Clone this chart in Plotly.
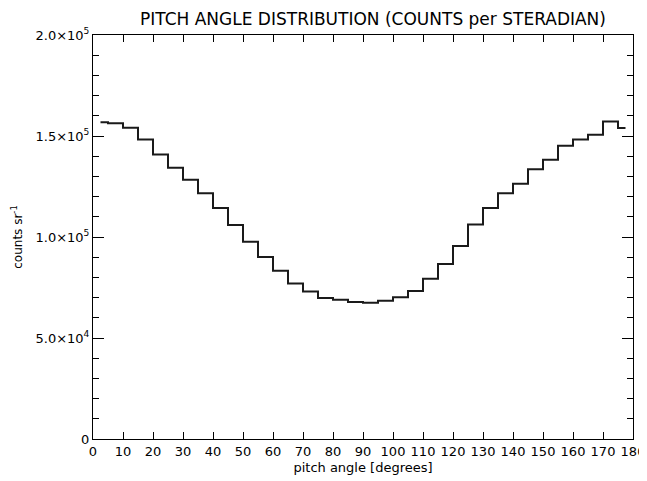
import plotly.graph_objects as go

# Pitch angle bin centres (degrees) – 5 degree bins
pitch_angle = [2.5 + 5 * i for i in range(36)]

# Counts per steradian
counts = [156800, 156300, 154100, 148300, 140900, 134300, 128400, 121600, 114400,
          106000, 97600, 90100, 83300, 77000, 73000, 69800, 68900, 67800,
          67400, 68500, 70200, 73300, 79300, 86600, 95600, 106200, 114400,
          121600, 126400, 133600, 138200, 145200, 148300, 150600, 157200, 153900]

x_tick_vals = list(range(0, 181, 10))
x_tick_text = [str(v) for v in x_tick_vals]
y_tick_vals = [0, 50000, 100000, 150000, 200000]
y_tick_text = ["0", "5.0×10<sup>4</sup>", "1.0×10<sup>5</sup>",
               "1.5×10<sup>5</sup>", "2.0×10<sup>5</sup>"]

FONT = "DejaVu Sans"
W, H = 639, 473  # page adds an 8px body margin

fig = go.Figure()
fig.add_trace(go.Scatter(
    x=pitch_angle, y=counts, mode="lines",
    line=dict(shape="hvh", color="#1a1a1a", width=2),
    showlegend=False, hoverinfo="x+y",
))

fig.update_layout(
    width=W, height=H,
    margin=dict(l=85, r=14, t=27, b=42, autoexpand=False),
    paper_bgcolor="white", plot_bgcolor="white",
    font=dict(family=FONT, color="black", size=13),
    title=dict(text="PITCH ANGLE DISTRIBUTION (COUNTS per STERADIAN)",
               x=365 / W, xanchor="center", y=1 - 11 / H, yanchor="middle",
               font=dict(family=FONT, size=17, color="black")),
)

fig.update_xaxes(
    range=[0, 180], tickmode="array", tickvals=x_tick_vals, ticktext=x_tick_text,
    ticks="inside", ticklen=7, tickwidth=1, tickcolor="black",
    showline=True, linecolor="black", linewidth=1, mirror="ticks",
    showgrid=False, zeroline=False, automargin=False,
    tickfont=dict(family=FONT, size=13),
    title=dict(text="pitch angle [degrees]", standoff=5,
               font=dict(family=FONT, size=13)),
)

fig.update_yaxes(
    range=[0, 200000], tickmode="array", tickvals=y_tick_vals, ticktext=y_tick_text,
    ticks="inside", ticklen=11, tickwidth=1, tickcolor="black",
    minor=dict(dtick=10000, ticks="inside", ticklen=6, tickcolor="black", showgrid=False),
    showline=True, linecolor="black", linewidth=1, mirror="ticks",
    showgrid=False, zeroline=False, automargin=False,
    tickfont=dict(family=FONT, size=13),
    title=dict(text="counts sr<sup>-1</sup>", standoff=10,
               font=dict(family=FONT, size=12)),
)

fig.write_html("out.html")
